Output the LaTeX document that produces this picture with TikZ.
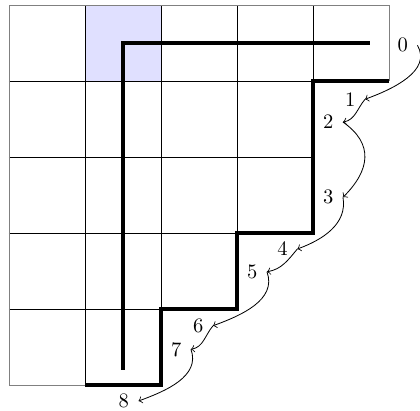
\documentclass[tikz,border=0pt]{standalone}
\begin{document}
\begin{tikzpicture}[x=1.3cm,y=1.3cm,
  lbl/.style={inner sep=4.5pt},
  thickline/.style={line width=2.2pt},
  gridline/.style={black,thin},
  arr/.style={->,thin}]
\useasboundingbox (-0.118,-0.329) rectangle (5.408,5.066);
\fill[blue!12] (1,4) rectangle (2,5);
% interior grid lines of the staircase shape
\draw[gridline] (4,5) -- (4,4);
\draw[gridline] (3,5) -- (3,2);
\draw[gridline] (2,5) -- (2,1);
\draw[gridline] (1,5) -- (1,0);
\draw[gridline] (0,4) -- (4,4);
\draw[gridline] (0,3) -- (4,3);
\draw[gridline] (0,2) -- (3,2);
\draw[gridline] (0,1) -- (2,1);
% outer border
\draw[gray] (1,0) -- (0,0) -- (0,5) -- (5,5) -- (5,4);
\draw[thickline] (4.75,4.5) -- (1.5,4.5) -- (1.5,0.2);
\draw[thickline] (5,4) -- (4,4) -- (4,2) -- (3,2) -- (3,1) -- (2,1) -- (2,0) -- (1,0);
\node[lbl] (n0) at (5.18,4.47) {0};
\node[lbl] (n1) at (4.49,3.76) {1};
\node[lbl] (n2) at (4.2,3.46) {2};
\node[lbl] (n3) at (4.2,2.47) {3};
\node[lbl] (n4) at (3.6,1.79) {4};
\node[lbl] (n5) at (3.2,1.49) {5};
\node[lbl] (n6) at (2.49,0.78) {6};
\node[lbl] (n7) at (2.2,0.47) {7};
\node[lbl] (n8) at (1.51,-0.21) {8};
\draw[arr] (n0.east) to[out=-60,in=20] (n1.east);
\draw[arr] (n1.east) to[out=-130,in=10] (n2.east);
\draw[arr] (n2.east) to[out=-35,in=45,looseness=1.3] (n3.east);
\draw[arr] (n3.east) to[out=-80,in=20] (n4.east);
\draw[arr] (n4.east) to[out=-130,in=10] (n5.east);
\draw[arr] (n5.east) to[out=-70,in=20] (n6.east);
\draw[arr] (n6.east) to[out=-130,in=10] (n7.east);
\draw[arr] (n7.east) to[out=-70,in=20] (n8.east);
\end{tikzpicture}
\end{document}
